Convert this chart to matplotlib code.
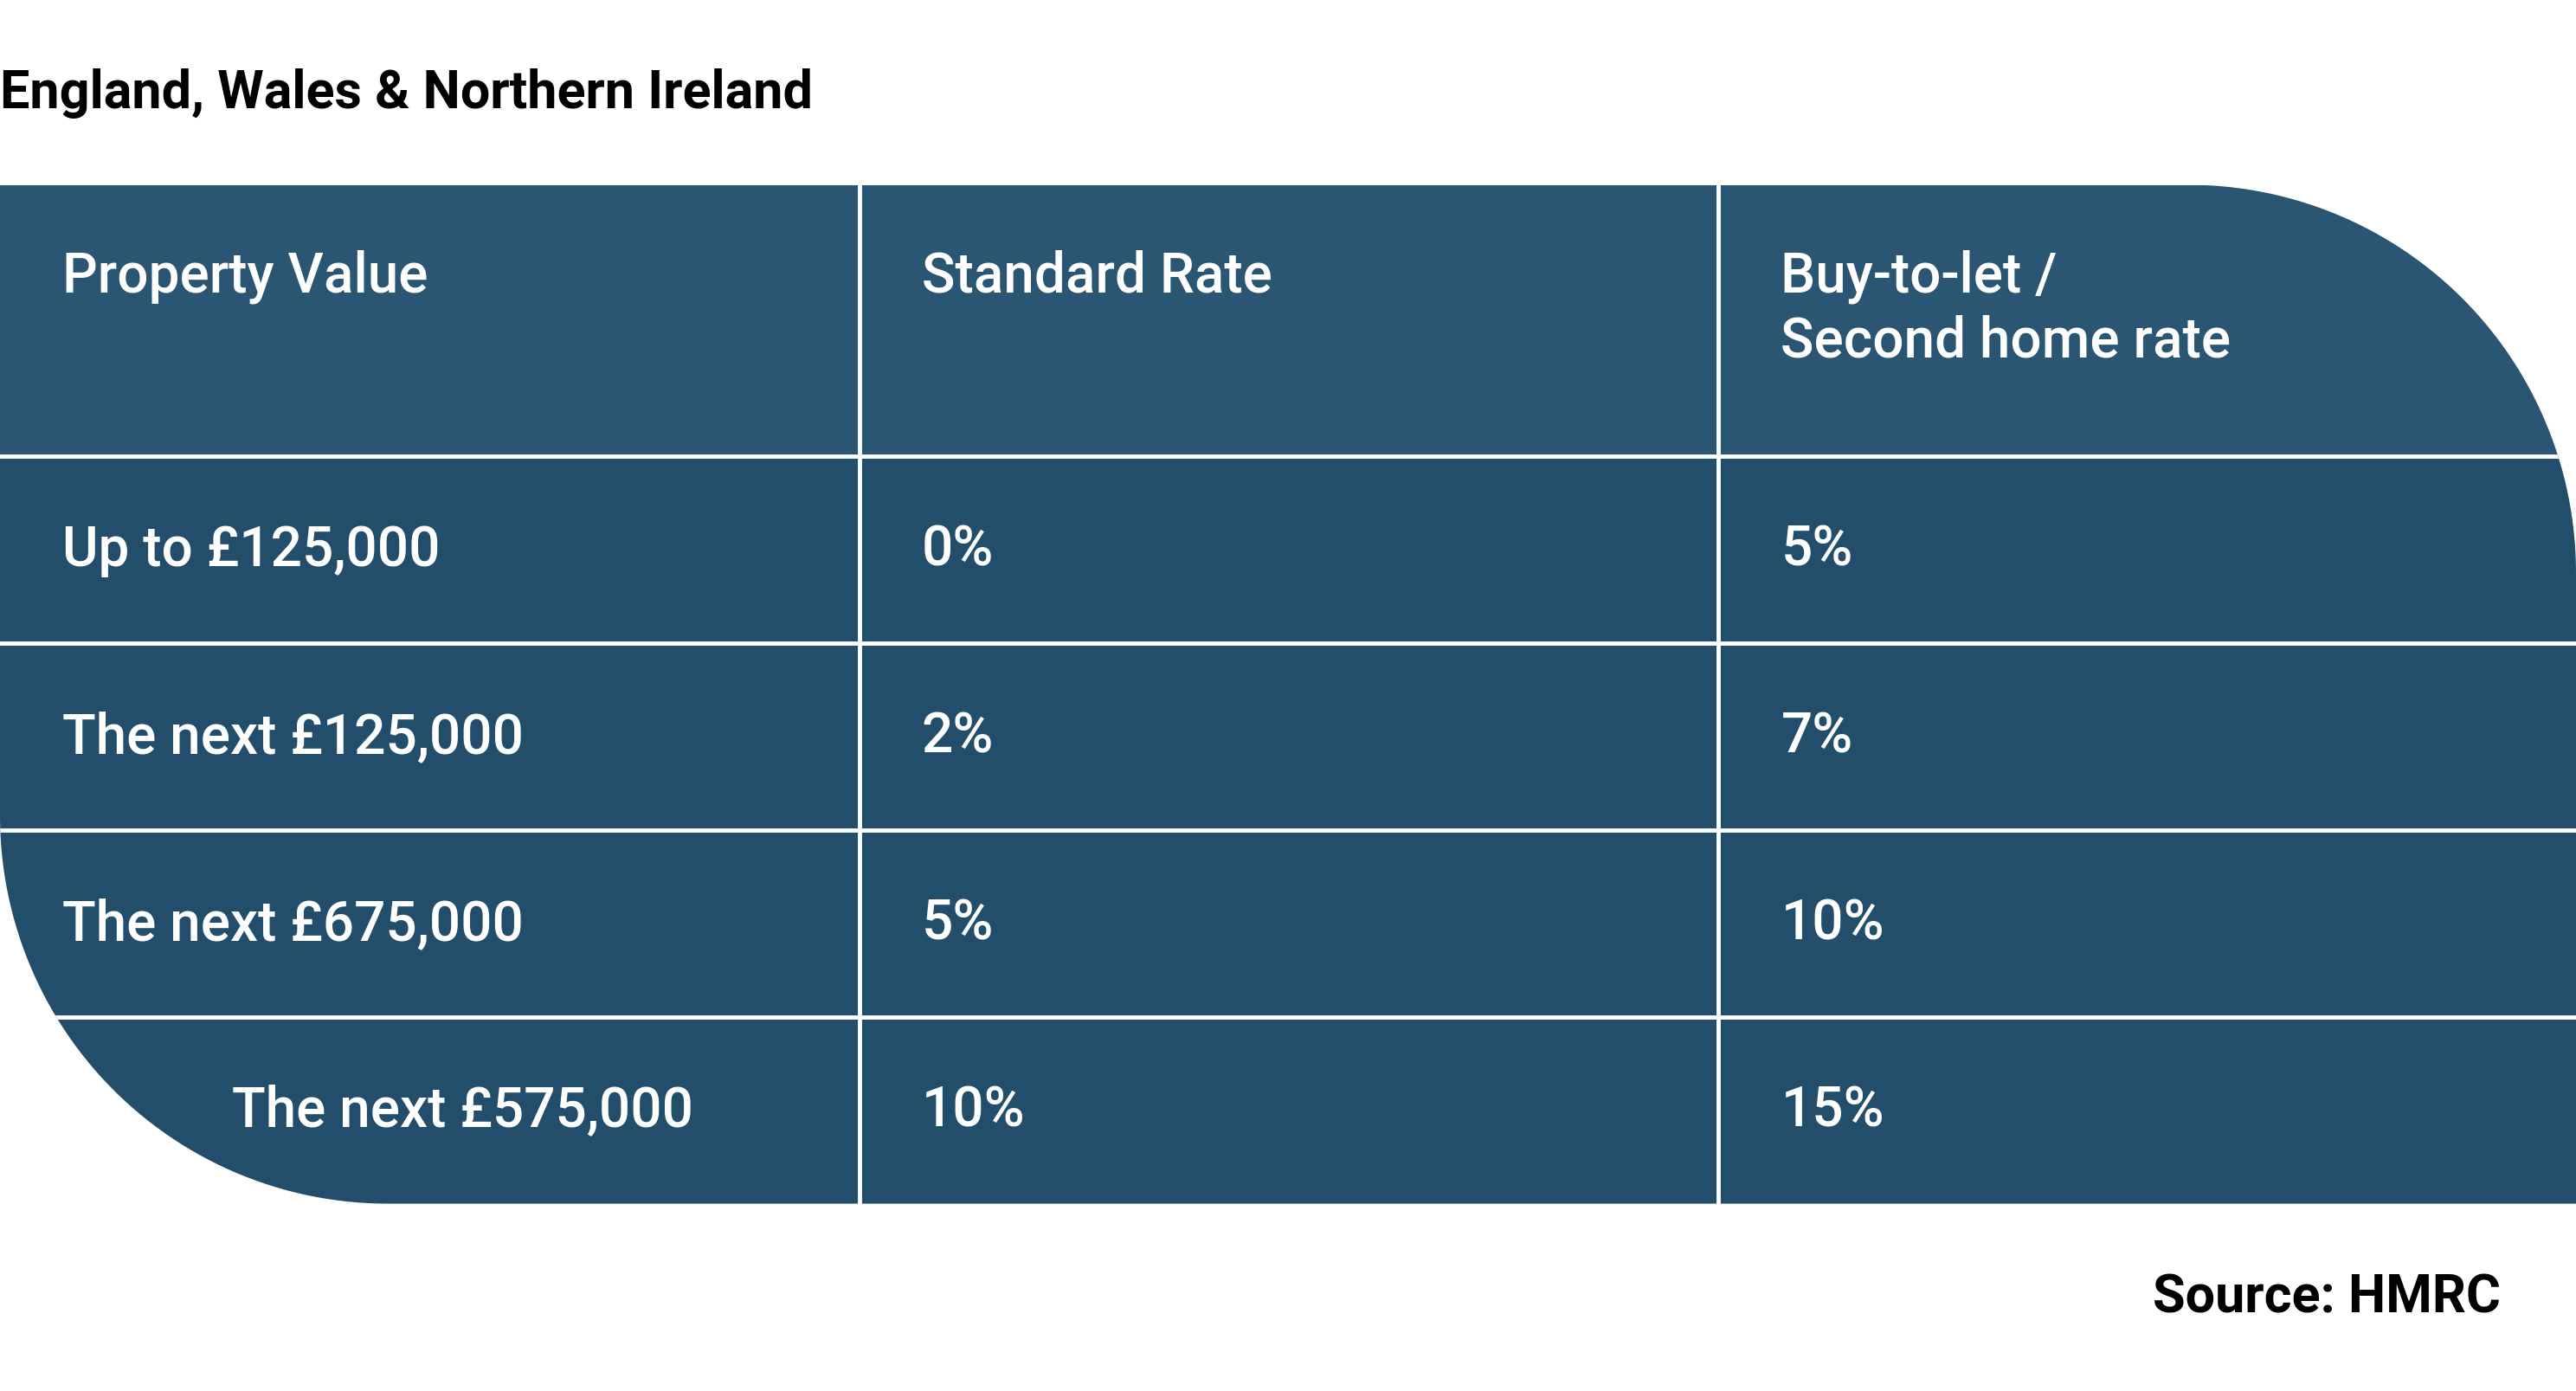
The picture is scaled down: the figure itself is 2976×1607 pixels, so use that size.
import numpy as np
import matplotlib
matplotlib.use("Agg")
import matplotlib.pyplot as plt
from matplotlib.patches import Rectangle, Polygon

title = "England, Wales & Northern Ireland"
source = "Source: HMRC"
headers = ["Property Value", "Standard Rate", "Buy-to-let /\nSecond home rate"]
bands = ["Up to £125,000", "The next £125,000", "The next £675,000", "The next £575,000"]
standard = ["0%", "2%", "5%", "10%"]
second_home = ["5%", "7%", "10%", "15%"]

W, H = 1568, 847
fig = plt.figure(figsize=(29.76, 16.08), dpi=100)
ax = fig.add_axes([0, 0, 1, 1])
ax.set_xlim(0, W); ax.set_ylim(H, 0); ax.axis("off")

top, hdr_bot, bot = 113, 278, 733
row_h = (bot - hdr_bot) / len(bands)
cols = [0, 523, 1046, 1568]
R = 236

# outline with rounded top-right and bottom-left corners
t1 = np.linspace(-np.pi/2, 0, 60)
arc_tr = np.c_[1568 - R + R*np.cos(t1), top + R + R*np.sin(t1)]
t2 = np.linspace(np.pi/2, np.pi, 60)
arc_bl = np.c_[R + R*np.cos(t2), bot - R + R*np.sin(t2)*-1*-1]
arc_bl = np.c_[R + R*np.cos(t2), bot - R + R*np.sin(t2)]
pts = np.vstack([[0, top], arc_tr, [1568, bot], arc_bl])
shape = Polygon(pts, closed=True, facecolor="none", edgecolor="none")
ax.add_patch(shape)

hdr_col, body_col = "#2b5673", "#224e6c"
r = Rectangle((0, top), W, hdr_bot - top, facecolor=hdr_col, edgecolor="none")
ax.add_patch(r); r.set_clip_path(shape)
r = Rectangle((0, hdr_bot), W, bot - hdr_bot, facecolor=body_col, edgecolor="none")
ax.add_patch(r); r.set_clip_path(shape)

lw = 3.5
for x in cols[1:3]:
    ax.plot([x, x], [top, bot], color="white", lw=lw)
for i in range(len(bands)):
    y = hdr_bot + i*row_h
    l, = ax.plot([0, W], [y, y], color="white", lw=lw)
    l.set_clip_path(shape)

fs = 46
font = "Roboto"
tx = [38, 561, 1084]
for j, h in enumerate(headers):
    ax.text(tx[j], 152, h, color="white", fontsize=fs, fontfamily=font,
            fontweight="medium", va="top", ha="left", linespacing=1.25)
for i in range(len(bands)):
    yc = hdr_bot + (i + 0.5)*row_h
    x0 = 141 if i == 3 else 38
    for x, s in zip([x0, 561, 1084], [bands[i], standard[i], second_home[i]]):
        ax.text(x, yc, s, color="white", fontsize=fs, fontfamily=font,
                fontweight="medium", va="center", ha="left")

ax.text(0, 57, title, fontsize=44, fontfamily=font, fontweight="bold",
        va="center", ha="left", color="black")
ax.text(1522, 790, source, fontsize=44, fontfamily=font, fontweight="bold",
        va="center", ha="right", color="black")

fig.savefig("out.png", dpi=100)
